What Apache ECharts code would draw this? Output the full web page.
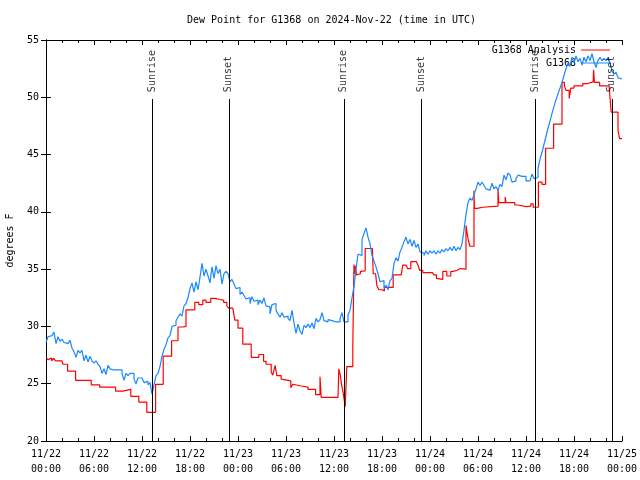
<!DOCTYPE html>
<html>
<head>
<meta charset="utf-8">
<script src="https://cdn.jsdelivr.net/npm/echarts@6/dist/echarts.min.js"></script>
<style>
html,body{margin:0;padding:0;background:#fff;}
#chart{width:640px;height:480px;}
</style>
</head>
<body>
<div id="chart"></div>
<script>
// ---- data ----
const titleText = 'Dew Point for G1368 on 2024-Nov-22 (time in UTC)';
const xTickLabels = ['11/22\n00:00','11/22\n06:00','11/22\n12:00','11/22\n18:00','11/23\n00:00','11/23\n06:00','11/23\n12:00','11/23\n18:00','11/24\n00:00','11/24\n06:00','11/24\n12:00','11/24\n18:00','11/25\n00:00'];
const sunriseHours = [13.27, 37.23, 61.2];
const sunsetHours = [22.85, 46.9, 70.73];
// observed G1368, one reading per quarter hour starting 11/22 00:00
const obsStartHour = 0;
const obsStepHours = 0.25;
const obsValues = [
28.6,29.1,29.2,29.1,29.5,28.5,29.1,28.7,28.9,28.6,
28.5,28.4,28.8,28.1,27.8,27.3,27.9,27.7,27.9,27.0,
27.5,26.9,27.4,27.0,26.8,27.0,26.7,26.5,25.9,26.3,
25.8,26.6,26.3,26.2,26.2,26.2,26.1,26.2,25.9,25.3,
25.9,25.7,25.9,25.9,25.4,25.0,25.5,25.5,25.5,25.1,
25.2,24.9,25.1,24.1,24.9,25.7,25.9,26.5,27.4,28.0,
28.4,29.0,29.2,30.0,30.1,30.5,30.8,31.1,30.9,31.8,
32.0,32.5,33.3,33.8,33.0,33.9,33.2,34.3,35.5,34.4,
35.0,34.4,33.8,35.2,34.2,35.3,34.6,35.0,33.7,34.6,
34.8,34.6,33.9,34.1,33.7,33.3,33.4,32.8,33.0,32.7,
32.4,32.5,32.0,32.6,32.2,32.3,31.9,32.3,32.0,32.5,
31.8,31.7,31.1,31.9,32.0,31.4,31.1,30.8,31.2,30.8,
30.9,30.7,30.5,31.4,30.3,29.4,30.2,29.6,29.3,30.1,
29.9,30.2,29.9,30.3,29.8,30.7,30.4,30.6,31.2,30.5,
30.4,30.6,30.5,30.4,30.4,30.4,30.4,30.7,31.2,30.4,
30.4,31.0,31.4,32.5,33.5,35.0,36.3,36.2,37.6,38.1,
38.6,37.8,37.2,36.2,35.7,35.2,34.6,33.9,34.0,33.3,
33.6,33.2,34.0,34.2,35.5,36.0,35.7,36.5,36.9,37.4,
37.8,37.2,37.6,37.0,37.5,36.9,37.2,36.5,36.4,36.2,
36.6,36.3,36.6,36.4,36.6,36.3,36.6,36.4,36.7,36.5,
36.8,36.6,36.9,36.6,37.0,36.6,36.9,36.7,37.2,38.4,
39.8,40.8,41.2,41.0,41.5,42.0,42.6,42.3,42.6,42.3,
42.0,41.9,42.0,42.5,42.0,42.2,41.9,42.4,42.2,43.2,
42.8,43.4,43.2,42.6,42.7,42.9,43.2,43.1,43.2,43.1,
42.7,42.7,42.6,43.3,42.9,43.0,43.8,44.6,45.2,45.9,
46.6,47.3,47.9,48.6,49.2,49.8,50.3,50.8,51.3,51.9,
52.5,53.0,52.7,53.5,53.0,53.6,53.1,53.4,52.8,53.5,
53.1,53.6,53.2,53.8,53.1,52.6,53.2,53.5,53.2,53.4,
53.2,53.5,53.0,52.3,52.0,52.2,51.7,51.6,51.6
];
// analysis steps: hour since 11/22 00:00 UTC
const anaHours = [0,0.25,0.45,0.7,0.95,1.2,1.5,1.7,2.0,2.1,2.7,3.7,5.65,6.7,8.7,9.6,10.6,11.6,12.6,13.7,14.65,15.7,16.5,17.1,17.5,18.6,19.1,19.6,20.0,20.6,21.2,21.7,22.2,22.6,22.85,23.35,23.6,24.0,24.6,25.65,26.6,27.2,27.5,28.15,28.35,28.5,28.65,28.85,29.4,29.6,30.6,30.85,31.1,31.9,32.75,33.7,34.25,34.4,36.5,36.6,36.8,36.95,37.15,37.4,37.6,38.35,38.5,38.6,38.7,38.8,39.0,39.3,39.5,39.9,40.8,40.9,41.2,41.35,41.6,42.0,42.3,43.0,43.4,44.4,44.6,45.0,45.2,45.6,46.3,46.5,46.7,47.1,48.3,48.5,48.8,49.0,49.6,50.1,50.6,50.9,51.4,51.8,52.0,52.5,52.65,52.8,53.0,53.5,53.55,53.9,54.6,56.5,56.6,57.4,57.5,58.6,59.0,60.0,60.6,60.9,61.55,62.0,62.45,63.45,64.5,64.8,65.0,65.4,65.6,66.0,67.1,67.7,68.4,68.45,68.55,69.2,70.4,70.65,71.5,71.7,72];
const anaValues = [27.3,27.1,27.25,27.0,27.2,27.0,27.1,27.0,27.1,26.7,26.1,25.3,24.9,24.7,24.35,24.5,23.9,23.4,22.5,24.95,27.4,28.75,29.95,30.0,31.45,32.1,31.9,32.3,32.1,32.45,32.35,32.3,32.1,31.8,31.6,31.65,30.55,29.85,28.45,27.3,27.55,26.95,26.7,26.0,25.75,26.2,26.6,25.7,25.4,25.25,24.65,24.95,24.8,24.7,24.5,24.05,25.6,23.8,23.8,26.3,25.7,24.9,24.2,23.0,26.5,28.3,35.4,34.6,35.3,34.5,34.6,34.8,34.85,36.8,36.75,34.6,34.5,33.6,33.2,33.1,33.4,33.4,34.5,34.5,35.35,35.4,35.05,35.65,35.6,35.35,34.9,34.7,34.6,34.5,34.2,34.1,34.8,34.4,34.8,34.9,35.05,35.1,35.0,38.8,38.1,37.5,37.0,41.85,40.3,40.4,40.5,42.0,40.8,41.3,40.8,40.6,40.45,40.5,40.7,40.4,42.6,42.4,45.55,47.65,51.3,51.0,50.6,49.9,50.8,51.0,51.2,51.35,51.3,52.4,51.3,51.0,50.8,48.7,47.1,46.4,46.4];

// ---- build ----
const obsData = obsValues.map((v, i) => [obsStartHour + i * obsStepHours, v]);
const anaData = anaHours.map((h, i) => [h, anaValues[i]]);
const FONT = 'DejaVu Sans Mono';
const LINE_TOP = 49.85;   // top end of sunrise/sunset marker lines
const LABEL_BASE = 50.45; // where the rotated labels start

const markData = sunriseHours.concat(sunsetHours).map(h => [{coord: [h, 20]}, {coord: [h, LINE_TOP]}]);
const labelData = sunriseHours.map(h => ({value: [h, LABEL_BASE], name: 'Sunrise'}))
  .concat(sunsetHours.map(h => ({value: [h, LABEL_BASE], name: 'Sunset'})));

const chart = echarts.init(document.getElementById('chart'), null, {renderer: 'canvas'});
const axisCommon = {
  min: 0, max: 72, interval: 6,
  axisLine: {show: true, lineStyle: {color: '#000', width: 1}},
  axisTick: {show: true, inside: true, length: 5, lineStyle: {color: '#000'}},
  minorTick: {show: true, splitNumber: 3, length: 3, lineStyle: {color: '#000'}},
  splitLine: {show: false}
};
const yCommon = {
  type: 'value', min: 20, max: 55, interval: 5,
  axisLine: {show: true, lineStyle: {color: '#000', width: 1}},
  axisTick: {show: true, inside: true, length: 5, lineStyle: {color: '#000'}},
  splitLine: {show: false}
};
chart.setOption({
  animation: false,
  backgroundColor: '#fff',
  title: {
    text: titleText, left: 182, top: 10,
    textStyle: {fontFamily: FONT, fontSize: 10, fontWeight: 'normal', color: '#000'}
  },
  legend: [
    {data: ['G1368 Analysis'], right: 25, top: 40, icon: 'rect', itemWidth: 29, itemHeight: 1,
     align: 'right', selectedMode: false,
     textStyle: {fontFamily: FONT, fontSize: 10, color: '#000'}},
    {data: ['G1368'], right: 25, top: 53, icon: 'rect', itemWidth: 29, itemHeight: 1,
     align: 'right', selectedMode: false,
     textStyle: {fontFamily: FONT, fontSize: 10, color: '#000'}}
  ],
  grid: {left: 46, right: 18, top: 40, bottom: 39, containLabel: false, outerBoundsMode: 'none'},
  xAxis: [
    Object.assign({type: 'value', position: 'bottom',
      axisLabel: {show: true, color: '#000', fontFamily: FONT, fontSize: 10, lineHeight: 15, margin: 6,
        showMinLabel: true, showMaxLabel: true,
        formatter: v => xTickLabels[Math.round(v / 6)]}}, axisCommon),
    Object.assign({type: 'value', position: 'top', axisLabel: {show: false}}, axisCommon)
  ],
  yAxis: [
    Object.assign({position: 'left', name: 'degrees F', nameLocation: 'middle', nameGap: 31,
      nameTextStyle: {fontFamily: FONT, fontSize: 10, color: '#000'},
      axisLabel: {color: '#000', fontFamily: FONT, fontSize: 10, margin: 7}}, yCommon),
    Object.assign({position: 'right', axisLabel: {show: false}}, yCommon)
  ],
  series: [
    {
      name: 'G1368 Analysis', type: 'line', step: 'end', data: anaData,
      symbol: 'none', color: '#ff0000', lineStyle: {width: 1.2, color: '#ff0000'},
      z: 3,
      markLine: {
        silent: true, symbol: ['none', 'none'], animation: false,
        lineStyle: {color: '#000', width: 1, type: 'solid'},
        label: {show: false}, emphasis: {disabled: true},
        data: markData
      }
    },
    {
      name: 'G1368', type: 'line', step: 'end', data: obsData,
      symbol: 'none', color: '#1a88ff', lineStyle: {width: 1.2, color: '#1a88ff'}, z: 4
    },
    {
      name: 'sunlabels', type: 'scatter', data: labelData, symbolSize: 1,
      itemStyle: {color: 'rgba(0,0,0,0)'}, silent: true, z: 5,
      label: {show: true, formatter: p => p.name, position: 'inside', rotate: 90,
        align: 'left', verticalAlign: 'middle', color: '#000', fontFamily: FONT, fontSize: 10}
    }
  ]
});
</script>
</body>
</html>
